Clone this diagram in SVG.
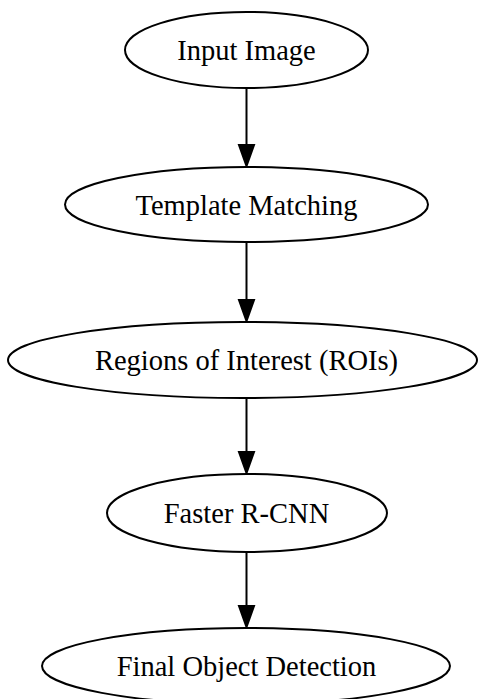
<svg xmlns="http://www.w3.org/2000/svg" width="478" height="699" viewBox="0 0 478 699">
<style>
.n ellipse{fill:#fff;stroke:#000;stroke-width:2}
.n text{font-family:"Liberation Serif","Times New Roman",serif;font-size:28.5px;fill:#000;text-anchor:middle}
.e line{stroke:#000;stroke-width:2}
.e polygon{fill:#000;stroke:#000;stroke-width:2}
</style>
<rect width="478" height="699" fill="#fff"/>
<g class="e" id="edges">
<line x1="246.5" y1="88" x2="246.5" y2="145"/><polygon points="239,145 254,145 246.5,166"/>
<line x1="246.5" y1="242" x2="246.5" y2="300"/><polygon points="239,300 254,300 246.5,321"/>
<line x1="246.5" y1="398" x2="246.5" y2="452"/><polygon points="239,452 254,452 246.5,473"/>
<line x1="246.5" y1="552" x2="246.5" y2="606"/><polygon points="239,606 254,606 246.5,627"/>
</g>
<g class="n" id="input"><ellipse cx="246.5" cy="50" rx="121.5" ry="38"/><text x="246.5" y="60">Input Image</text></g>
<g class="n" id="template"><ellipse cx="246.5" cy="204.5" rx="181.5" ry="37.5"/><text x="246.5" y="214.5">Template Matching</text></g>
<g class="n" id="rois"><ellipse cx="242.5" cy="360" rx="234.5" ry="38"/><text x="246.5" y="370">Regions of Interest (ROIs)</text></g>
<g class="n" id="faster"><ellipse cx="247" cy="513" rx="140" ry="39"/><text x="246.5" y="523">Faster R-CNN</text></g>
<g class="n" id="final"><ellipse cx="246" cy="666" rx="204" ry="38"/><text x="246.5" y="676">Final Object Detection</text></g>
</svg>
